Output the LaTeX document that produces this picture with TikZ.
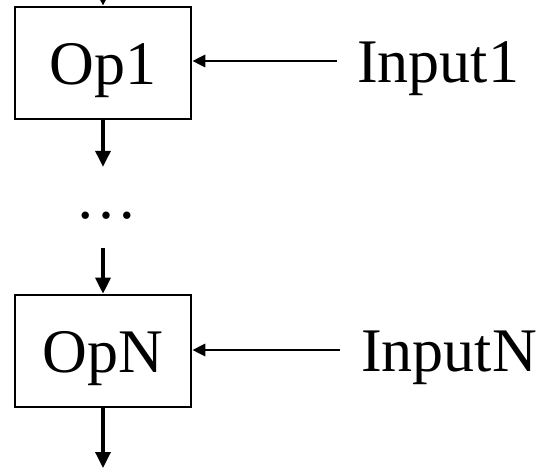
\documentclass[tikz,border=0pt]{standalone}
\usepackage{fontspec}
\setmainfont{Liberation Serif}
\usetikzlibrary{arrows.meta}
\begin{document}
\begin{tikzpicture}[x=1pt,y=-1pt,
  opbox/.style={draw,line width=2.6pt,minimum width=176pt,minimum height=112pt,
    inner sep=0pt,font=\fontsize{62}{62}\selectfont,text height=43pt,text depth=0pt},
  inlabel/.style={anchor=west,inner sep=0pt,font=\fontsize{62}{62}\selectfont,
    text height=43pt,text depth=0pt},
  flow/.style={line width=3.4pt,-{Triangle[length=16pt,width=15pt]}},
  feed/.style={line width=2.8pt,-{Triangle[length=13pt,width=12pt]}}]
  \useasboundingbox (0,0) rectangle (538,468);

  \node[opbox] (op1) at (103,63) {Op1};
  \node[opbox] (opn) at (103,351) {OpN};
  \node[inlabel] (in1) at (357,61) {Input1};
  \node[inlabel] (inn) at (361,350) {InputN};
  \node[anchor=base,inner sep=0pt,font=\fontsize{62}{62}\selectfont,
    text height=51pt,text depth=30pt] (dots) at (106,218) {…};

  \coordinate (src) at (103,-40);
  \coordinate (sink) at (103,468);

  \draw[flow] (src) -- (op1.north);
  \draw[flow] (op1.south) -- (op1.south |- dots.north);
  \draw[flow] (opn.north |- dots.south) -- (opn.north);
  \draw[flow] (opn.south) -- (sink);

  \draw[feed] ([xshift=-20pt]in1.west) -- (op1.east |- in1.west);
  \draw[feed] ([xshift=-21pt]inn.west) -- (opn.east |- inn.west);
\end{tikzpicture}
\end{document}
